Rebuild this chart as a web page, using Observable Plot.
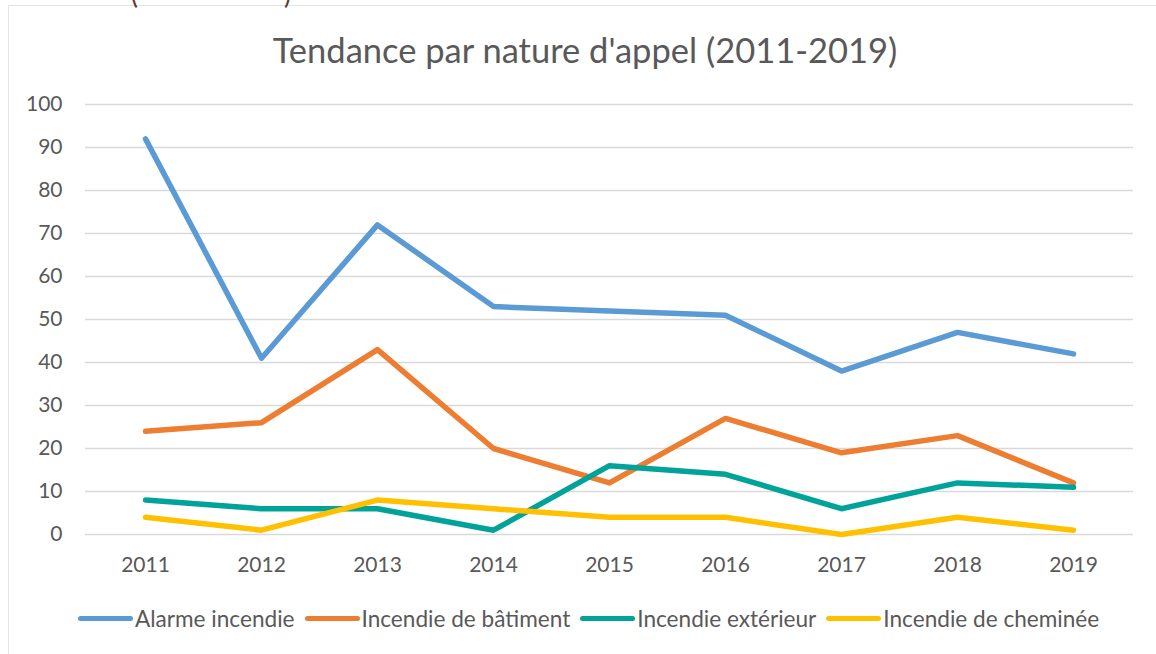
<!DOCTYPE html>
<html>
<head>
<meta charset="utf-8">
<script src="https://cdn.jsdelivr.net/npm/d3@7"></script>
<script src="https://cdn.jsdelivr.net/npm/@observablehq/plot@0.6"></script>
<style>
  html, body { margin: 0; padding: 0; background: #fff; }
  #wrap { position: relative; width: 1156px; height: 654px; overflow: hidden; font-family: Lato, "Open Sans", sans-serif; color: #595959; }
  #border { position: absolute; left: 8px; top: 5px; right: -2px; bottom: -2px; border-left: 1.5px solid #e4e4e4; border-top: 1.5px solid #e4e4e4; }
  .frag { position: absolute; top: -22px; font-size: 26px; color: #5b3a29; }
  #title { position: absolute; top: 29px; left: 0; width: 1170px; text-align: center; font-size: 34.5px; }
  #legend { position: absolute; top: 605px; left: 78px; display: flex; align-items: center; font-size: 22.6px; white-space: nowrap; }
  .item { display: flex; align-items: center; margin-right: 10px; }
  .sw { width: 55px; height: 5px; border-radius: 3px; margin-right: 2px; }
  #chart { position: absolute; left: 0; top: 0; }
</style>
</head>
<body>
<div id="wrap">
  <div id="border"></div>
  <span class="frag" style="left:131px">(</span><span class="frag" style="left:284px">)</span>
  <div id="title"></div>
  <div id="chart"></div>
  <div id="legend"></div>
</div>
<script>
const titleText = "Tendance par nature d'appel (2011-2019)";
const years = ["2011","2012","2013","2014","2015","2016","2017","2018","2019"];
const seriesNames = ["Alarme incendie","Incendie de bâtiment","Incendie extérieur","Incendie de cheminée"];
const seriesColors = ["#5b9bd5","#ed7d31","#00a39a","#ffc000"];
const alarmeIncendie = [92, 41, 72, 53, 52, 51, 38, 47, 42];
const incendieBatiment = [24, 26, 43, 20, 12, 27, 19, 23, 12];
const incendieExterieur = [8, 6, 6, 1, 16, 14, 6, 12, 11];
const incendieCheminee = [4, 1, 8, 6, 4, 4, 0, 4, 1];
const yTicks = [0,10,20,30,40,50,60,70,80,90,100];

const allValues = [alarmeIncendie, incendieBatiment, incendieExterieur, incendieCheminee];
const data = [];
seriesNames.forEach((s, i) => years.forEach((y, j) => data.push({series: s, year: y, value: allValues[i][j]})));

document.getElementById("title").textContent = titleText;

const chart = Plot.plot({
  width: 1156,
  height: 654,
  marginLeft: 85,
  marginRight: 23,
  marginTop: 104,
  marginBottom: 120,
  style: {fontFamily: "Lato, 'Open Sans', sans-serif", fontSize: "21px", color: "#595959", background: "transparent"},
  x: {type: "point", domain: years, padding: 0.5, label: null},
  y: {domain: [0, 100], label: null},
  color: {domain: seriesNames, range: seriesColors},
  marks: [
    Plot.ruleY(yTicks, {stroke: "#d9d9d9", strokeWidth: 1.5}),
    Plot.axisY(yTicks, {tickSize: 0, tickPadding: 23, fontSize: 21, fill: "#595959", label: null}),
    Plot.axisX({tickSize: 0, tickPadding: 23, fontSize: 21, fill: "#595959", label: null}),
    Plot.line(data, {x: "year", y: "value", z: "series", stroke: "series", strokeWidth: 5.5, strokeLinejoin: "round", strokeLinecap: "round"})
  ]
});
document.getElementById("chart").appendChild(chart);

const legend = document.getElementById("legend");
seriesNames.forEach((s, i) => {
  const item = document.createElement("div");
  item.className = "item";
  const sw = document.createElement("div");
  sw.className = "sw";
  sw.style.background = seriesColors[i];
  const t = document.createElement("span");
  t.textContent = s;
  item.appendChild(sw);
  item.appendChild(t);
  legend.appendChild(item);
});
</script>
</body>
</html>
